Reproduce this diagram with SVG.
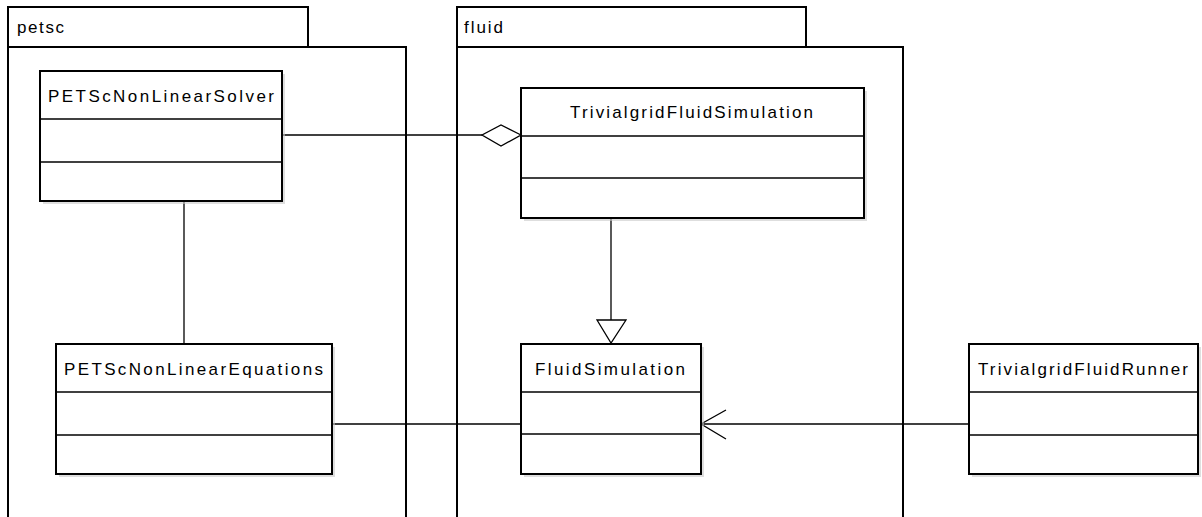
<svg xmlns="http://www.w3.org/2000/svg" width="1202" height="517" viewBox="0 0 1202 517">
<style>
.pkg{fill:#fff;stroke:#000;stroke-width:2}
.box{fill:#fff;stroke:#000;stroke-width:2}
.sh{fill:#c8c8c8;stroke:none;opacity:0.6}
.div{stroke:#000;stroke-width:1.5}
.conn{stroke:#000;stroke-width:1.3;fill:none}
text{font-family:"Liberation Sans",Arial,sans-serif;font-size:17px;fill:#000}
.c{text-anchor:middle}
</style>
<rect width="1202" height="517" fill="#fff"/>
<g id="pkg-petsc">
<rect class="pkg" x="8" y="7" width="300" height="40"/>
<rect class="pkg" x="8" y="47" width="398" height="490"/>
<text x="17" y="33" textLength="47" lengthAdjust="spacing">petsc</text>
</g>
<g id="pkg-fluid">
<rect class="pkg" x="457" y="7" width="349" height="40"/>
<rect class="pkg" x="457" y="47" width="446" height="490"/>
<text x="464" y="33" textLength="39" lengthAdjust="spacing">fluid</text>
</g>
<g id="connectors">
<line class="conn" x1="282" y1="135" x2="482" y2="135"/>
<polygon points="521,135 501,125 482,135 501,146" fill="#fff" stroke="#000" stroke-width="1.3"/>
<line class="conn" x1="184" y1="201" x2="184" y2="344"/>
<line class="conn" x1="611" y1="218" x2="611" y2="320"/>
<polygon points="597,320 626,320 611,343" fill="#fff" stroke="#000" stroke-width="1.3"/>
<line class="conn" x1="332" y1="424" x2="521" y2="424"/>
<line class="conn" x1="701" y1="424" x2="969" y2="424"/>
<polyline class="conn" points="726,410 701,424 726,439"/>
</g>
<g id="PETScNonLinearSolver">
<rect class="sh" x="43" y="74" width="242" height="130"/>
<rect class="box" x="40" y="71" width="242" height="130"/>
<line class="div" x1="40" y1="119" x2="282" y2="119"/>
<line class="div" x1="40" y1="162" x2="282" y2="162"/>
<text class="c" x="161" y="102" textLength="226" lengthAdjust="spacing">PETScNonLinearSolver</text>
</g>
<g id="TrivialgridFluidSimulation">
<rect class="sh" x="524" y="91" width="343" height="130"/>
<rect class="box" x="521" y="88" width="343" height="130"/>
<line class="div" x1="521" y1="136" x2="864" y2="136"/>
<line class="div" x1="521" y1="178" x2="864" y2="178"/>
<text class="c" x="691.5" y="118" textLength="243" lengthAdjust="spacing">TrivialgridFluidSimulation</text>
</g>
<g id="PETScNonLinearEquations">
<rect class="sh" x="59" y="347" width="276" height="130"/>
<rect class="box" x="56" y="344" width="276" height="130"/>
<line class="div" x1="56" y1="392" x2="332" y2="392"/>
<line class="div" x1="56" y1="435" x2="332" y2="435"/>
<text class="c" x="193.5" y="375" textLength="259" lengthAdjust="spacing">PETScNonLinearEquations</text>
</g>
<g id="FluidSimulation">
<rect class="sh" x="524" y="347" width="180" height="130"/>
<rect class="box" x="521" y="344" width="180" height="130"/>
<line class="div" x1="521" y1="392" x2="701" y2="392"/>
<line class="div" x1="521" y1="434" x2="701" y2="434"/>
<text class="c" x="610" y="375" textLength="150" lengthAdjust="spacing">FluidSimulation</text>
</g>
<g id="TrivialgridFluidRunner">
<rect class="sh" x="972" y="347" width="229" height="130"/>
<rect class="box" x="969" y="344" width="229" height="130"/>
<line class="div" x1="969" y1="392" x2="1198" y2="392"/>
<line class="div" x1="969" y1="435" x2="1198" y2="435"/>
<text class="c" x="1083" y="375" textLength="210" lengthAdjust="spacing">TrivialgridFluidRunner</text>
</g>
</svg>
